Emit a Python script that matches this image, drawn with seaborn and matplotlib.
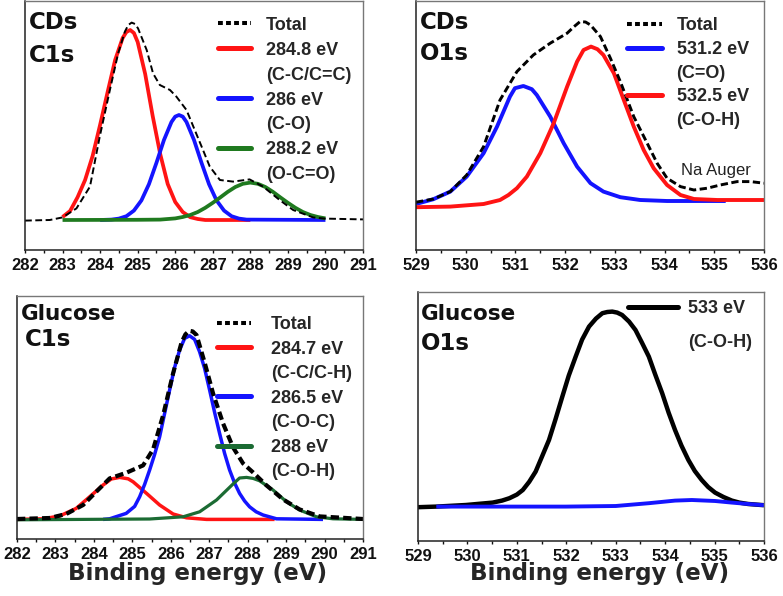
import matplotlib
matplotlib.use("Agg")
import matplotlib.pyplot as plt
import seaborn as sns
import pandas as pd
from matplotlib.lines import Line2D
from matplotlib.ticker import MultipleLocator

# ---------------- data ----------------
# CDs C1s
cds_c1s_total_x = [282.0, 282.66, 283.0, 283.37, 283.73, 283.99, 284.26, 284.48, 284.66, 284.75, 284.84, 284.93,
                   285.01, 285.24, 285.41, 285.59, 285.86, 286.03, 286.30, 286.52, 286.74, 286.92, 287.19,
                   287.54, 287.98, 288.34, 288.78, 289.14, 289.67, 289.98, 291.0]
cds_c1s_total_y = [-0.3, 0.0, 1.3, 5.8, 16.7, 41.7, 65.0, 83.3, 94.2, 97.5, 98.7, 98.0,
                   95.8, 85.0, 73.3, 67.5, 65.0, 61.7, 55.0, 45.0, 35.0, 26.7, 20.0,
                   19.2, 20.3, 16.7, 10.0, 5.0, 1.3, 0.7, 0.3]
cds_c1s_cc_x = [283.0, 283.2, 283.4, 283.6, 283.8, 284.0, 284.2, 284.4, 284.6, 284.7, 284.8, 284.9, 285.0,
                285.2, 285.4, 285.6, 285.8, 286.0, 286.2, 286.4, 286.6, 286.8, 288.0]
cds_c1s_cc_y = [1.5, 4.5, 11.4, 20.0, 32.0, 47.6, 64.0, 80.0, 91.0, 94.0, 95.0, 93.5, 89.0,
                73.0, 52.0, 33.0, 18.0, 9.0, 4.0, 1.4, 0.5, 0.0, 0.0]
cds_c1s_co_x = [284.0, 284.3, 284.5, 284.7, 284.9, 285.1, 285.3, 285.5, 285.7, 285.9, 286.0, 286.1, 286.2,
                286.3, 286.5, 286.7, 286.9, 287.1, 287.3, 287.5, 287.7, 287.9, 290.0]
cds_c1s_co_y = [0.0, 0.2, 0.7, 1.9, 4.7, 9.8, 17.9, 28.6, 40.0, 49.0, 51.7, 52.5, 51.7,
                49.0, 40.0, 28.6, 17.9, 9.8, 4.7, 1.9, 0.7, 0.2, 0.0]
cds_c1s_oco_x = [283.0, 285.0, 285.6, 286.0, 286.2, 286.4, 286.6, 286.8, 287.0, 287.2, 287.4, 287.6, 287.8,
                 288.0, 288.2, 288.4, 288.6, 288.8, 289.0, 289.2, 289.4, 289.6, 289.8, 290.0]
cds_c1s_oco_y = [0.0, 0.1, 0.2, 0.8, 1.5, 2.5, 4.0, 6.1, 8.6, 11.3, 14.1, 16.5, 18.1,
                 18.7, 18.1, 16.5, 14.1, 11.3, 8.6, 6.1, 4.0, 2.5, 1.5, 0.8]
cds_c1s_labels = ["Total", "284.8 eV", "(C-C/C=C)", "286 eV", "(C-O)", "288.2 eV", "(O-C=O)"]

# CDs O1s
cds_o1s_total_x = [529.0, 529.35, 529.69, 530.02, 530.36, 530.69, 531.03, 531.36, 531.70, 532.04, 532.18,
                   532.30, 532.41, 532.51, 532.71, 532.91, 533.11, 533.38, 533.65, 533.85, 534.05, 534.32,
                   534.59, 534.86, 535.12, 535.46, 535.73, 536.0]
cds_o1s_total_y = [2.2, 3.8, 7.5, 15.8, 30.0, 53.3, 67.5, 75.8, 81.7, 86.7, 90.0,
                   92.5, 92.3, 90.8, 85.0, 74.2, 62.5, 45.0, 31.7, 21.7, 14.2, 10.0,
                   8.3, 9.2, 10.8, 12.5, 12.5, 11.7]
cds_o1s_co_x = [529.0, 529.35, 529.69, 530.02, 530.36, 530.63, 530.89, 530.99, 531.16, 531.33, 531.43,
                531.70, 531.97, 532.24, 532.51, 532.77, 533.11, 533.51, 534.05, 535.23]
cds_o1s_co_y = [1.3, 3.7, 7.5, 15.0, 26.7, 40.0, 55.0, 59.2, 60.3, 58.7, 55.8,
                45.0, 31.7, 20.0, 11.7, 7.5, 4.7, 3.3, 2.8, 2.8]
cds_o1s_coh_x = [529.0, 529.69, 530.36, 530.69, 530.86, 531.03, 531.23, 531.50, 531.77, 532.04, 532.24,
                 532.37, 532.52, 532.65, 532.77, 532.98, 533.18, 533.38, 533.58, 533.78, 534.05, 534.32,
                 534.59, 535.06, 536.0]
cds_o1s_coh_y = [-0.3, 0.0, 1.3, 3.3, 5.8, 9.2, 15.0, 26.7, 41.7, 60.0, 72.5,
                 78.3, 80.0, 78.7, 75.8, 66.7, 53.3, 40.0, 28.3, 19.2, 10.8, 5.8,
                 3.8, 3.3, 3.3]
cds_o1s_labels = ["Total", "531.2 eV", "(C=O)", "532.5 eV", "(C-O-H)"]

# Glucose C1s
glu_c1s_total_x = [282.0, 282.85, 283.28, 283.72, 284.06, 284.41, 284.84, 285.28, 285.54, 285.80, 286.06,
                   286.28, 286.38, 286.48, 286.57, 286.67, 286.88, 287.10, 287.36, 287.62, 287.88, 288.14,
                   288.49, 288.92, 289.35, 289.87, 291.0]
glu_c1s_total_y = [0.2, 0.7, 2.7, 7.2, 13.8, 20.5, 23.3, 27.0, 35.0, 52.0, 73.0,
                   88.5, 92.5, 94.3, 94.0, 92.2, 78.5, 63.0, 48.0, 36.0, 28.0, 23.5,
                   17.0, 10.0, 5.0, 1.5, 0.2]
glu_c1s_cc_x = [282.0, 282.68, 283.11, 283.54, 283.89, 284.24, 284.45, 284.67, 284.89, 285.02, 285.37,
                285.71, 286.06, 286.41, 286.93, 288.70]
glu_c1s_cc_y = [0.0, 0.3, 1.7, 5.5, 11.3, 17.2, 20.2, 21.0, 20.3, 18.8, 13.0,
                7.2, 2.7, 0.8, 0.0, 0.0]
glu_c1s_coc_x = [284.24, 284.41, 284.84, 285.06, 285.19, 285.32, 285.45, 285.58, 285.71, 285.84, 285.97,
                 286.10, 286.23, 286.36, 286.49, 286.62, 286.75, 286.88, 287.01, 287.14, 287.27, 287.40,
                 287.53, 287.66, 287.79, 287.92, 288.05, 288.22, 288.40, 288.75, 289.96]
glu_c1s_coc_y = [0.0, 0.3, 3.0, 6.5, 11.3, 17.5, 24.7, 32.5, 41.3, 53.0, 64.7,
                 76.0, 84.7, 90.5, 91.8, 90.0, 83.8, 75.5, 64.7, 53.5, 43.0, 33.0,
                 24.7, 18.2, 13.0, 9.2, 6.3, 3.8, 2.2, 0.3, 0.0]
glu_c1s_coh_x = [282.0, 285.45, 286.32, 286.75, 287.19, 287.62, 287.79, 287.97, 288.14, 288.31, 288.66,
                 289.01, 289.35, 289.79, 290.22, 291.0]
glu_c1s_coh_y = [-0.2, 0.2, 1.3, 3.8, 9.7, 17.7, 20.7, 21.0, 20.5, 19.3, 14.7,
                 8.8, 4.7, 1.3, 0.3, 0.0]
glu_c1s_labels = ["Total", "284.7 eV", "(C-C/C-H)", "286.5 eV", "(C-O-C)", "288 eV", "(C-O-H)"]

# Glucose O1s
glu_o1s_peak_x = [529.0, 529.37, 529.97, 530.51, 530.70, 530.85, 531.00, 531.12, 531.25, 531.38, 531.50,
                  531.65, 531.78, 531.92, 532.05, 532.19, 532.32, 532.46, 532.60, 532.73, 532.83, 532.93,
                  533.03, 533.13, 533.27, 533.40, 533.53, 533.67, 533.80, 533.94, 534.07, 534.20, 534.33,
                  534.47, 534.60, 534.74, 534.87, 535.01, 535.18, 535.35, 535.50, 535.68, 536.0]
glu_o1s_peak_y = [-0.3, 0.0, 0.8, 2.0, 3.0, 4.2, 6.0, 8.3, 12.4, 17.5, 24.5,
                  33.3, 43.5, 55.0, 65.5, 75.0, 83.5, 90.0, 94.0, 96.7, 97.3, 97.5,
                  97.0, 95.8, 92.5, 88.3, 82.0, 75.0, 66.0, 56.7, 47.0, 38.3, 30.5,
                  23.3, 17.8, 13.3, 9.8, 7.0, 4.8, 3.0, 2.0, 1.3, 0.7]
glu_o1s_bg_x = [529.37, 531.99, 533.0, 533.67, 534.2, 534.54, 535.01, 535.35, 535.68, 536.0]
glu_o1s_bg_y = [0.0, 0.0, 0.3, 1.7, 3.0, 3.3, 2.8, 2.0, 1.3, 0.7]
glu_o1s_labels = ["533 eV", "(C-O-H)"]

c1s_ticks = [282, 283, 284, 285, 286, 287, 288, 289, 290, 291]
o1s_ticks = [529, 530, 531, 532, 533, 534, 535, 536]

# ---------------- style ----------------
sns.set_theme(style="ticks")
plt.rcParams["font.family"] = ["Liberation Sans", "DejaVu Sans"]
plt.rcParams["font.weight"] = "bold"

RED = "#ff1414"
BLUE = "#1414ff"
GREEN1 = "#1f7a1f"
GREEN2 = "#1b6b33"
WIDE = ["DejaVu Sans"]

W, H = 783, 596
fig = plt.figure(figsize=(W / 100, H / 100), dpi=100)


def box(l, t, r, b):
    return [l / W, 1 - b / H, (r - l) / W, (b - t) / H]


def ftext(x, y, s, size=16.5):
    fig.text(x / W, 1 - y / H, s, va="baseline", ha="left", fontsize=size,
             fontweight="bold", family=WIDE, color="#111111")


ax1 = fig.add_axes(box(25, 1, 363, 250))
ax2 = fig.add_axes(box(416, 1, 764, 250))
ax3 = fig.add_axes(box(17, 296, 363, 539))
ax4 = fig.add_axes(box(418, 292, 764, 541))


def line(ax, x, y, color, lw, ls="-"):
    df = pd.DataFrame({"energy": x, "intensity": y})
    sns.lineplot(data=df, x="energy", y="intensity", ax=ax, color=color, lw=lw,
                 linestyle=ls, estimator=None, sort=False, solid_capstyle="butt")


def style_axes(ax, xlim, ylim, ticks):
    ax.set_xlim(*xlim)
    ax.set_ylim(*ylim)
    ax.set_xticks(ticks)
    ax.set_xticklabels([str(t) for t in ticks], fontweight="bold", fontsize=12,
                       family=["Liberation Sans"])
    ax.xaxis.set_minor_locator(MultipleLocator(0.5))
    ax.set_yticks([])
    ax.set_xlabel("")
    ax.set_ylabel("")
    ax.tick_params(axis="x", which="both", direction="out", length=2.5, width=1,
                   pad=3.0, colors="#111111")
    for s in ["left", "bottom"]:
        ax.spines[s].set_color("#222222")
        ax.spines[s].set_linewidth(1.1)
    for s in ["top", "right"]:
        ax.spines[s].set_color("#777777")
        ax.spines[s].set_linewidth(1.0)


def legend(ax, handles, labels, anchor, hl, htp, ls):
    ax.legend(handles, labels, loc="upper left", bbox_to_anchor=anchor, frameon=False,
              borderpad=0, borderaxespad=0, handlelength=hl, handletextpad=htp,
              labelspacing=ls, prop={"weight": "bold", "size": 13, "family": "Liberation Sans"})


blank = Line2D([], [], color="none")
tot_handle = Line2D([], [], color="black", lw=2.9, ls=(0, (1.2, 0.8)))

# ---- panel 1: CDs C1s ----
line(ax1, cds_c1s_cc_x, cds_c1s_cc_y, RED, 2.7)
line(ax1, cds_c1s_co_x, cds_c1s_co_y, BLUE, 2.7)
line(ax1, cds_c1s_oco_x, cds_c1s_oco_y, GREEN1, 2.7)
line(ax1, cds_c1s_total_x, cds_c1s_total_y, "black", 1.4, (0, (3.5, 1.8)))
style_axes(ax1, (282, 291), (-15, 109.5), c1s_ticks)
legend(ax1, [tot_handle, Line2D([], [], color=RED, lw=3.6), blank,
             Line2D([], [], color=BLUE, lw=3.6), blank,
             Line2D([], [], color=GREEN1, lw=3.6), blank],
       cds_c1s_labels, (0.571, 0.937), 1.85, 0.8, 0.44)

# ---- panel 2: CDs O1s ----
line(ax2, cds_o1s_co_x, cds_o1s_co_y, BLUE, 2.8)
line(ax2, cds_o1s_coh_x, cds_o1s_coh_y, RED, 2.8)
line(ax2, cds_o1s_total_x, cds_o1s_total_y, "black", 2.1, (0, (2.5, 1.2)))
style_axes(ax2, (529, 536), (-21.7, 102.8), o1s_ticks)
legend(ax2, [tot_handle, Line2D([], [], color=BLUE, lw=3.6), blank,
             Line2D([], [], color=RED, lw=3.6), blank],
       cds_o1s_labels, (0.606, 0.935), 1.95, 0.8, 0.37)
ax2.text(534.34, 18.0, "Na Auger", fontsize=12, fontweight="normal", color="#222222",
         va="center", ha="left")

# ---- panel 3: Glucose C1s ----
line(ax3, glu_c1s_cc_x, glu_c1s_cc_y, RED, 2.5)
line(ax3, glu_c1s_coc_x, glu_c1s_coc_y, BLUE, 2.5)
line(ax3, glu_c1s_coh_x, glu_c1s_coh_y, GREEN2, 2.3)
line(ax3, glu_c1s_total_x, glu_c1s_total_y, "black", 3.0, (0, (2.0, 1.0)))
style_axes(ax3, (282, 291), (-9.8, 111.7), c1s_ticks)
legend(ax3, [tot_handle, Line2D([], [], color=RED, lw=3.6), blank,
             Line2D([], [], color=BLUE, lw=3.6), blank,
             Line2D([], [], color=GREEN2, lw=3.6), blank],
       glu_c1s_labels, (0.578, 0.918), 1.9, 1.1, 0.42)
ax3.set_xlabel("Binding energy (eV)", fontsize=16.6, fontweight="bold", family=WIDE)
ax3.xaxis.set_label_coords(0.523, -0.096)

# ---- panel 4: Glucose O1s ----
line(ax4, glu_o1s_peak_x, glu_o1s_peak_y, "black", 3.2)
line(ax4, glu_o1s_bg_x, glu_o1s_bg_y, BLUE, 2.8)
style_axes(ax4, (529, 536), (-17.2, 107.3), o1s_ticks)
legend(ax4, [Line2D([], [], color="black", lw=3.6), blank], glu_o1s_labels,
       (0.607, 0.967), 2.75, 0.56, 0.95)
ax4.set_xlabel("Binding energy (eV)", fontsize=16.6, fontweight="bold", family=WIDE)
ax4.xaxis.set_label_coords(0.526, -0.0855)

# panel titles
ftext(29, 29, "CDs")
ftext(29, 62, "C1s")
ftext(420, 29, "CDs")
ftext(420, 60, "O1s")
ftext(21, 320, "Glucose", 15.5)
ftext(25, 346, "C1s")
ftext(421, 320, "Glucose", 15.5)
ftext(421, 350, "O1s")

fig.savefig("out.png", dpi=100)
